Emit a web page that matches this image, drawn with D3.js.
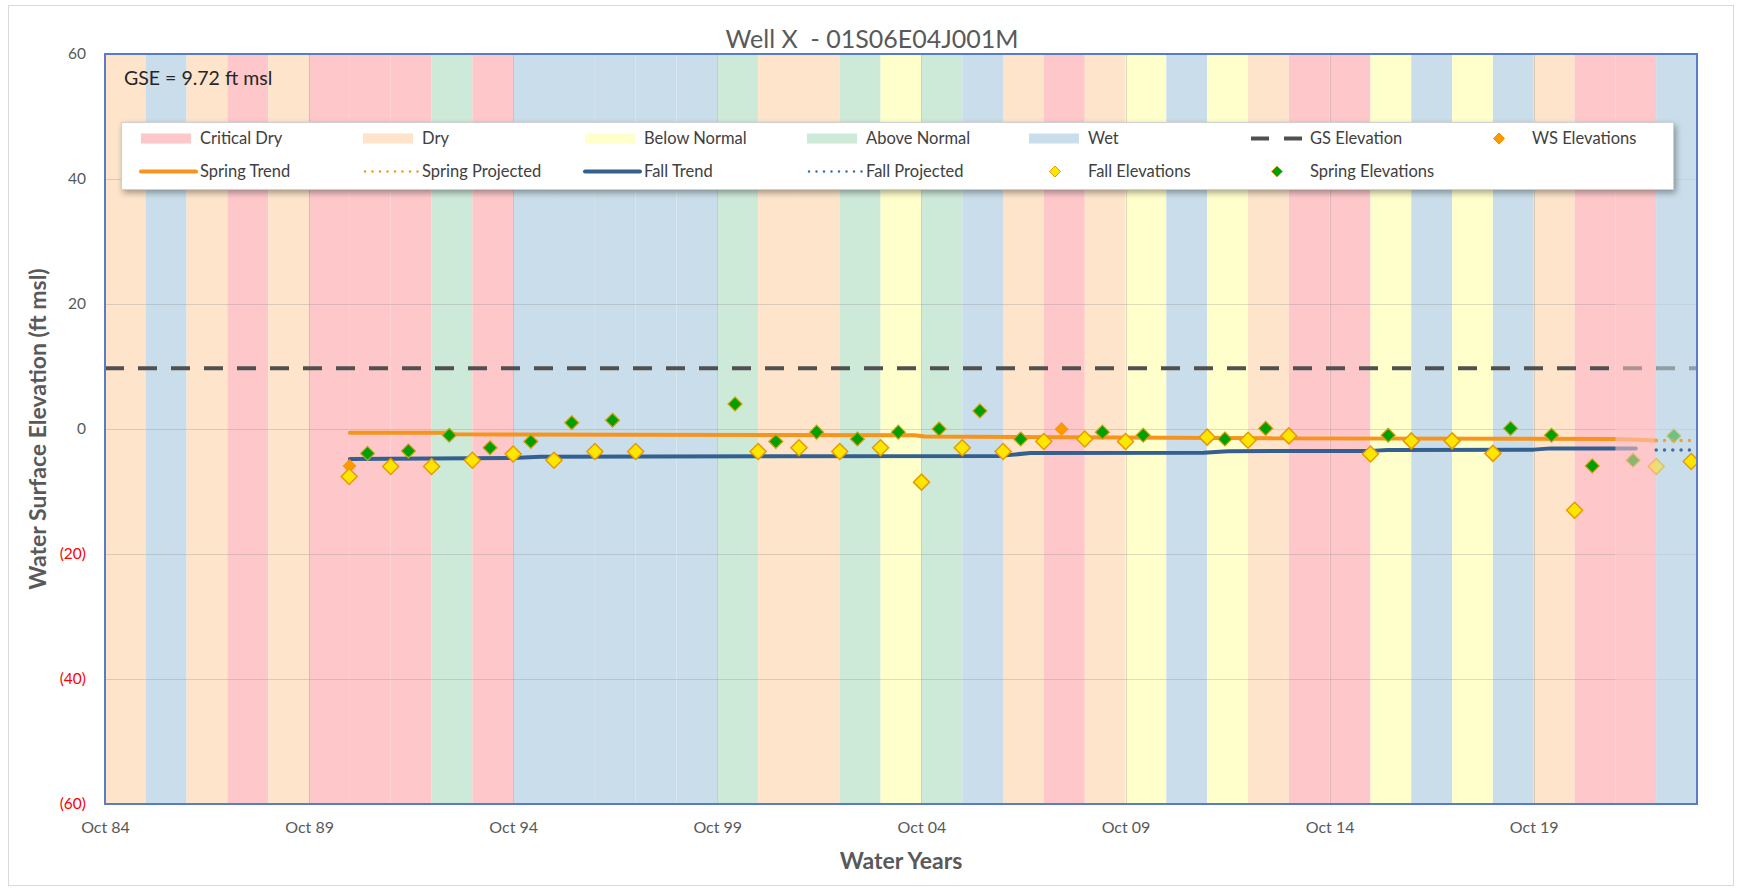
<!DOCTYPE html>
<html>
<head>
<meta charset="utf-8">
<script src="https://cdn.jsdelivr.net/npm/d3@7"></script>
<style>
  html, body { margin: 0; padding: 0; background: #fff; }
  svg { display: block; font-family: Lato, "Open Sans", sans-serif; }
</style>
</head>
<body>
<svg id="chart" width="1737" height="889"></svg>
<script>
// ---- Water year classification (water year ends Sept 30 of the listed year) ----
const waterYears = [1985,1986,1987,1988,1989,1990,1991,1992,1993,1994,1995,1996,1997,1998,1999,
  2000,2001,2002,2003,2004,2005,2006,2007,2008,2009,2010,2011,2012,2013,2014,2015,2016,2017,2018,2019,
  2020,2021,2022,2023];
const yearTypes = ["D","W","D","C","D","C","C","C","AN","C","W","W","W","W","W",
  "AN","D","D","AN","BN","AN","W","D","C","D","BN","W","BN","D","C","C","BN","W","BN","W",
  "D","C","C","W"];
const recentYears = [2022, 2023];

const typeKeys   = ["C", "D", "BN", "AN", "W"];
const typeNames  = ["Critical Dry", "Dry", "Below Normal", "Above Normal", "Wet"];
const typeColors = ["#FEC8CB", "#FDE4CA", "#FFFFCC", "#CDE9D7", "#C9DEEA"];

// ---- Measurements ----
const springDates = ["1991-03-08","1992-03-08","1993-03-08","1994-03-08","1995-03-08","1996-03-08","1997-03-08",
  "2000-03-08","2001-03-08","2002-03-08","2003-03-08","2004-03-08","2005-03-08","2006-03-08","2007-03-08",
  "2009-03-08","2010-03-08","2012-03-08","2013-03-08","2016-03-08","2019-03-08","2020-03-08","2021-03-08",
  "2022-03-08","2023-03-08"];
const springValues = [-3.9,-3.5,-1.0,-3.0,-2.0,1.0,1.4,
  4.0,-2.0,-0.5,-1.6,-0.5,0.0,2.9,-1.6,
  -0.5,-1.0,-1.6,0.1,-1.0,0.1,-1.0,-5.9,
  -5.0,-1.1];

const fallDates = ["1990-09-25","1991-10-01","1992-10-01","1993-10-01","1994-10-01","1995-10-01","1996-10-01",
  "1997-10-01","2000-10-01","2001-10-01","2002-10-01","2003-10-01","2004-10-01","2005-10-01","2006-10-01",
  "2007-10-01","2008-10-01","2009-10-01","2011-10-01","2012-10-01","2013-10-01","2015-10-01","2016-10-01",
  "2017-10-01","2018-10-01","2020-10-01","2022-10-01"];
const fallValues = [-7.6,-6.0,-6.0,-5.0,-4.0,-5.0,-3.6,
  -3.6,-3.6,-3.0,-3.6,-3.0,-8.5,-3.0,-3.6,
  -2.0,-1.6,-2.0,-1.3,-1.8,-1.1,-4.0,-1.9,
  -1.9,-3.9,-13.0,-6.0];

// most recent fall reading
const latestFallDates  = ["2023-08-10"];
const latestFallValues = [-5.2];

const wsDates  = ["1990-09-28", "2008-03-08"];
const wsValues = [-5.9, 0.0];

const springTrendDates  = ["1990-10-01","1993-02-01","1993-05-01","2004-08-01","2004-11-01","2013-06-01","2021-10-01","2022-10-01"];
const springTrendValues = [-0.6,-0.6,-0.85,-1.0,-1.2,-1.5,-1.6,-1.85];
const springProjDates   = ["2022-10-01","2023-10-01"];
const springProjValues  = [-1.85,-1.85];

const fallTrendDates  = ["1990-10-01","1994-10-01","1995-06-01","2006-09-01","2007-06-01","2011-09-01","2012-04-01",
  "2015-10-01","2016-03-01","2019-10-01","2020-03-01","2022-04-01"];
const fallTrendValues = [-4.8,-4.65,-4.45,-4.3,-3.85,-3.8,-3.55,-3.5,-3.35,-3.3,-3.1,-3.1];
const fallProjDates   = ["2022-10-01","2023-10-01"];
const fallProjValues  = [-3.35,-3.35];

const gseValue = 9.72;

const yTicks = [-60,-40,-20,0,20,40,60];
const xTickYears = [1984,1989,1994,1999,2004,2009,2014,2019];

// ---- Layout ----
const svg = d3.select("#chart");
const plot = { left: 105, right: 1697, top: 54, bottom: 804 };
const parse = d3.timeParse("%Y-%m-%d");
const oct1 = yr => new Date(yr, 9, 1);

const x = d3.scaleTime().domain([oct1(1984), oct1(2023)]).range([plot.left, plot.right]);
const y = d3.scaleLinear().domain([-60, 60]).range([plot.bottom, plot.top]);
const colorOf = k => typeColors[typeKeys.indexOf(k)];

const diamond = r => `M0,${-r}L${r},0L0,${r}L${-r},0Z`;
const zip = (ds, vs) => ds.map((d, i) => ({ date: parse(d), value: vs[i] }));

// defs
const defs = svg.append("defs");
const shadow = defs.append("filter").attr("id", "legendShadow")
  .attr("x", "-5%").attr("y", "-30%").attr("width", "110%").attr("height", "170%");
shadow.append("feDropShadow").attr("dx", 2).attr("dy", 3).attr("stdDeviation", 3)
  .attr("flood-color", "#000").attr("flood-opacity", 0.35);
defs.append("clipPath").attr("id", "plotClip").append("rect")
  .attr("x", plot.left).attr("y", plot.top)
  .attr("width", plot.right - plot.left).attr("height", plot.bottom - plot.top);

// outer frame
svg.append("rect").attr("x", 8.5).attr("y", 5.5).attr("width", 1725).attr("height", 880)
  .attr("fill", "#fff").attr("stroke", "#d9d9d9").attr("stroke-width", 1);

// title
svg.append("text").attr("x", 872).attr("y", 48).attr("text-anchor", "middle")
  .style("white-space", "pre")
  .attr("font-size", 25).attr("fill", "#595959").text("Well X  - 01S06E04J001M");

// water-year bands
const bands = waterYears.map((wy, i) => ({ wy, type: yearTypes[i] }));
const gBands = svg.append("g").attr("clip-path", "url(#plotClip)");
gBands.selectAll("rect").data(bands).join("rect")
  .attr("x", d => x(oct1(d.wy - 1)))
  .attr("width", d => x(oct1(d.wy)) - x(oct1(d.wy - 1)))
  .attr("y", plot.top).attr("height", plot.bottom - plot.top)
  .attr("fill", d => colorOf(d.type));

// gridlines
const gGrid = svg.append("g").attr("stroke", "#8c8c8c").attr("stroke-opacity", 0.3).attr("stroke-width", 1);
gGrid.selectAll("line.h").data(yTicks.filter(v => v > -60 && v < 60)).join("line")
  .attr("class", "h").attr("x1", plot.left).attr("x2", plot.right)
  .attr("y1", d => Math.round(y(d)) + 0.5).attr("y2", d => Math.round(y(d)) + 0.5);
gGrid.selectAll("line.v").data(xTickYears.slice(1)).join("line")
  .attr("class", "v").attr("y1", plot.top).attr("y2", plot.bottom)
  .attr("x1", d => Math.round(x(oct1(d))) + 0.5).attr("x2", d => Math.round(x(oct1(d))) + 0.5);

const gData = svg.append("g").attr("clip-path", "url(#plotClip)");

// ground surface elevation
gData.append("line").attr("x1", plot.left).attr("x2", plot.right)
  .attr("y1", y(gseValue)).attr("y2", y(gseValue))
  .attr("stroke", "#505050").attr("stroke-width", 4).attr("stroke-dasharray", "19 14");

const line = d3.line().x(d => x(d.date)).y(d => y(d.value));

gData.append("path").datum(zip(springTrendDates, springTrendValues))
  .attr("d", line).attr("fill", "none").attr("stroke", "#F7941D").attr("stroke-width", 4)
  .attr("stroke-linecap", "round").attr("stroke-linejoin", "round");
gData.append("path").datum(zip(fallTrendDates, fallTrendValues))
  .attr("d", line).attr("fill", "none").attr("stroke", "#34608F").attr("stroke-width", 4)
  .attr("stroke-linecap", "round").attr("stroke-linejoin", "round");

// markers
const styles = {
  ws:     { r: 6.5, fill: "#FF9900", stroke: "#F59200", sw: 0.8 },
  fall:   { r: 8,   fill: "#FFE600", stroke: "#E69A00", sw: 1.5 },
  spring: { r: 7,   fill: "#00A000", stroke: "#D69E10", sw: 1.2 }
};
function drawMarkers(g, data, s) {
  g.append("g").selectAll("path").data(data).join("path")
    .attr("transform", d => `translate(${x(d.date)},${y(d.value)})`)
    .attr("d", diamond(s.r)).attr("fill", s.fill)
    .attr("stroke", s.stroke).attr("stroke-width", s.sw);
}
drawMarkers(gData, zip(wsDates, wsValues), styles.ws);
drawMarkers(gData, zip(fallDates, fallValues), styles.fall);
drawMarkers(gData, zip(springDates, springValues), styles.spring);

// recent water years shaded over the record
gData.append("g").selectAll("rect").data(bands.filter(d => recentYears.includes(d.wy))).join("rect")
  .attr("x", d => x(oct1(d.wy - 1)))
  .attr("width", d => x(oct1(d.wy)) - x(oct1(d.wy - 1)))
  .attr("y", plot.top).attr("height", plot.bottom - plot.top)
  .attr("fill", d => colorOf(d.type)).attr("fill-opacity", 0.55);

// projections
gData.append("path").datum(zip(springProjDates, springProjValues))
  .attr("d", line).attr("fill", "none").attr("stroke", "#E8A33A").attr("stroke-width", 3.5)
  .attr("stroke-dasharray", "0 8.3").attr("stroke-linecap", "round");
gData.append("path").datum(zip(fallProjDates, fallProjValues))
  .attr("d", line).attr("fill", "none").attr("stroke", "#3A6EA5").attr("stroke-width", 3.5)
  .attr("stroke-dasharray", "0 8.3").attr("stroke-linecap", "round");

drawMarkers(gData, zip(latestFallDates, latestFallValues), styles.fall);

// plot border
svg.append("rect").attr("x", plot.left).attr("y", plot.top)
  .attr("width", plot.right - plot.left).attr("height", plot.bottom - plot.top)
  .attr("fill", "none").attr("stroke", "#5A7CC8").attr("stroke-width", 2);

// axes
const yAxis = svg.append("g").attr("transform", `translate(${plot.left},0)`)
  .call(d3.axisLeft(y).tickValues(yTicks).tickSize(0).tickPadding(19)
    .tickFormat(v => v < 0 ? `(${-v})` : `${v}`));
yAxis.select(".domain").remove();
yAxis.selectAll("text").attr("font-size", 15.5).attr("font-family", "Lato, sans-serif")
  .attr("fill", d => d < 0 ? "#FF0000" : "#595959");

const xAxis = svg.append("g").attr("transform", `translate(0,${plot.bottom})`)
  .call(d3.axisBottom(x).tickValues(xTickYears.map(oct1)).tickSize(0).tickPadding(18)
    .tickFormat(d3.timeFormat("%b %y")));
xAxis.select(".domain").remove();
xAxis.selectAll("text").attr("font-size", 16).attr("font-family", "Lato, sans-serif").attr("fill", "#595959");

// axis titles
svg.append("text").attr("transform", "translate(46,429) rotate(-90)").attr("text-anchor", "middle")
  .attr("font-size", 23).attr("font-weight", "bold").attr("fill", "#595959")
  .text("Water Surface Elevation (ft msl)");
svg.append("text").attr("x", 901).attr("y", 869).attr("text-anchor", "middle")
  .attr("font-size", 23).attr("font-weight", "bold").attr("fill", "#595959")
  .text("Water Years");

// ground surface note
svg.append("text").attr("x", 124).attr("y", 85).attr("font-size", 19.5).attr("fill", "#262626")
  .text(`GSE = ${gseValue} ft msl`);

// ---- Legend ----
const legend = svg.append("g");
legend.append("rect").attr("x", 121.5).attr("y", 122.5).attr("width", 1552).attr("height", 67)
  .attr("fill", "#fff").attr("stroke", "#d0d0d0").attr("filter", "url(#legendShadow)");

const colX = i => 141 + 222 * i;
const rowY = [138.5, 171.5];
const legendItems = [
  ...typeNames.map((n, i) => ({ row: 0, col: i, label: n, kind: "band", color: typeColors[i] })),
  { row: 0, col: 5, label: "GS Elevation", kind: "gse" },
  { row: 0, col: 6, label: "WS Elevations", kind: "marker", style: styles.ws },
  { row: 1, col: 0, label: "Spring Trend", kind: "line", color: "#F7941D" },
  { row: 1, col: 1, label: "Spring Projected", kind: "dots", color: "#F7941D" },
  { row: 1, col: 2, label: "Fall Trend", kind: "line", color: "#34608F" },
  { row: 1, col: 3, label: "Fall Projected", kind: "dots", color: "#3A6EA5" },
  { row: 1, col: 4, label: "Fall Elevations", kind: "marker", style: styles.fall },
  { row: 1, col: 5, label: "Spring Elevations", kind: "marker", style: styles.spring }
];
legendItems.forEach(it => {
  const x0 = colX(it.col), cy = rowY[it.row];
  const g = legend.append("g");
  if (it.kind === "band") {
    g.append("rect").attr("x", x0).attr("y", cy - 5).attr("width", 50).attr("height", 10).attr("fill", it.color);
  } else if (it.kind === "line") {
    g.append("line").attr("x1", x0).attr("x2", x0 + 55).attr("y1", cy).attr("y2", cy)
      .attr("stroke", it.color).attr("stroke-width", 4).attr("stroke-linecap", "round");
  } else if (it.kind === "dots") {
    g.append("line").attr("x1", x0 + 2).attr("x2", x0 + 56).attr("y1", cy).attr("y2", cy)
      .attr("stroke", it.color).attr("stroke-width", 2.5).attr("stroke-dasharray", "0 7.5").attr("stroke-linecap", "round");
  } else if (it.kind === "gse") {
    g.append("line").attr("x1", x0).attr("x2", x0 + 52).attr("y1", cy).attr("y2", cy)
      .attr("stroke", "#505050").attr("stroke-width", 4).attr("stroke-dasharray", "18 15");
  } else if (it.kind === "marker") {
    g.append("path").attr("transform", `translate(${x0 + 26},${cy})`).attr("d", diamond(5.5))
      .attr("fill", it.style.fill).attr("stroke", it.style.stroke).attr("stroke-width", 1);
  }
  g.append("text").attr("x", x0 + 59).attr("y", cy).attr("dy", "0.35em")
    .attr("font-size", 16.5).attr("fill", "#404040").text(it.label);
});
</script>
</body>
</html>
